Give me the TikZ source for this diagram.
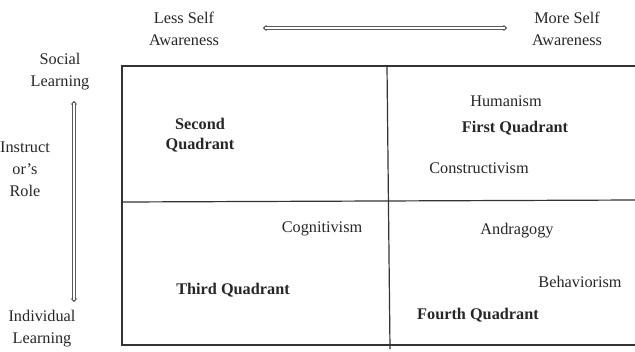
\documentclass[tikz,border=0pt]{standalone}
\usepackage{fontspec}
\setmainfont{Liberation Serif}
\usetikzlibrary{arrows.meta}
\begin{document}
\begin{tikzpicture}[x=0.75pt,y=-0.75pt,
  lbl/.style={font=\fontsize{12.2}{16.5}\selectfont, align=center, inner sep=0pt, text=black!85},
  qlbl/.style={lbl, font=\fontsize{12.2}{15}\selectfont\bfseries},
  frame/.style={line width=0.9pt, draw=black!80},
  shaft/.style={draw=black!65, line width=2.4pt, {Triangle[length=3pt,width=5pt,round]}-{Triangle[length=3pt,width=5pt,round]}},
  core/.style={draw=white, line width=0.9pt, shorten <=1.5pt, shorten >=1.5pt}]
\useasboundingbox (0,0) rectangle (635,351);
% frame
\coordinate (tl) at (122,66);
\coordinate (tr) at (635,66);
\coordinate (bl) at (122,345);
\coordinate (br) at (635,345);
\coordinate (ml) at (122,202);
\coordinate (mr) at (635,200);
\coordinate (vt) at (387,66);
\coordinate (vb) at (390,349);
\draw[frame] (tr) -- (tl) -- (bl) -- (br);
\draw[frame] (ml) -- (mr);
\draw[frame] (vt) -- (vb);
% axis arrows
\coordinate (hl) at (263,28);
\coordinate (hr) at (507,28);
\coordinate (vtop) at (74,101);
\coordinate (vbot) at (74,302);
\draw[shaft] (hl) -- (hr);
\draw[core] (hl) -- (hr);
\draw[shaft] (vtop) -- (vbot);
\draw[core] (vtop) -- (vbot);
% axis labels
\node[lbl] (less) at (184,29) {Less Self\\Awareness};
\node[lbl] (more) at (567,29) {More Self\\Awareness};
\node[lbl] (social) at (60,72) {Social\\Learning};
\node[lbl] (instr) at (25,169) {Instruct\\or’s\\Role};
\node[lbl] (indiv) at (42,329) {Individual\\Learning};
% quadrant labels
\node[qlbl] (q2) at (200,135) {Second\\Quadrant};
\node[qlbl] (q1) at (515,128) {First Quadrant};
\node[qlbl] (q3) at (233,290) {Third Quadrant};
\node[qlbl] (q4) at (478,315) {Fourth Quadrant};
% theories
\node[lbl] (hum) at (506,101) {Humanism};
\node[lbl] (con) at (479,168) {Constructivism};
\node[lbl] (cog) at (322,229) {Cognitivism};
\node[lbl] (and) at (517,231) {Andragogy};
\node[lbl] (beh) at (580,282) {Behaviorism};
\end{tikzpicture}
\end{document}
